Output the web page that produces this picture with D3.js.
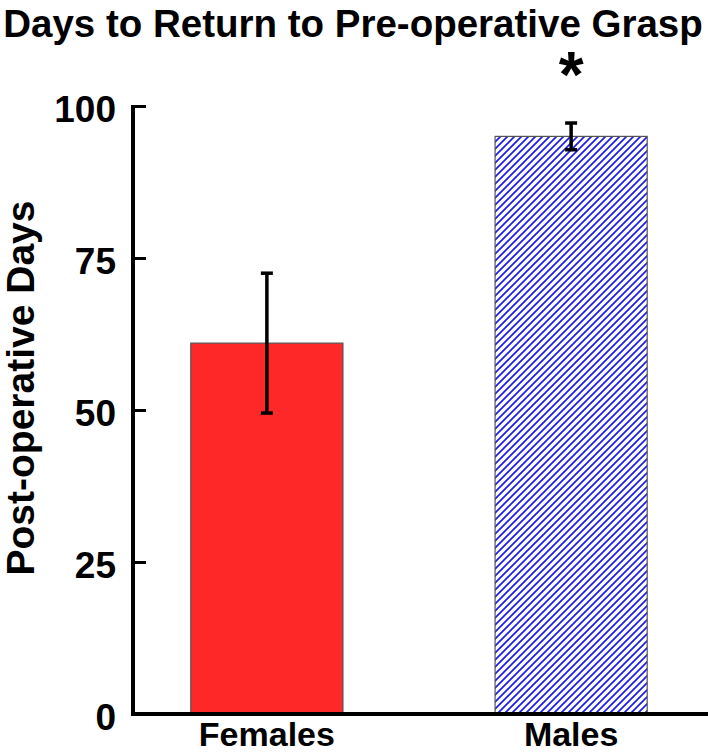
<!DOCTYPE html>
<html>
<head>
<meta charset="utf-8">
<script src="https://d3js.org/d3.v7.min.js"></script>
<style>
  body { margin: 0; background: #fff; }
  text { font-family: "Liberation Sans", Arial, sans-serif; font-weight: bold; fill: #000; }
</style>
</head>
<body>
<svg width="708" height="752"></svg>
<script>
// data
var groups = ["Females", "Males"];
var meanDays = [61, 95];
var semDays = [11.5, 2.2];
var yTicks = [0, 25, 50, 75, 100];
var sigMarks = ["", "*"];

var svg = d3.select("svg");

var x = d3.scaleBand()
  .domain(groups)
  .range([133, 705])
  .paddingInner(0.5)
  .paddingOuter(0.19);

var y = d3.scaleLinear()
  .domain([0, 100])
  .range([714, 106]);

var defs = svg.append("defs");
var hatch = defs.append("pattern")
  .attr("id", "hatch")
  .attr("patternUnits", "userSpaceOnUse")
  .attr("width", 7)
  .attr("height", 7);
hatch.append("rect").attr("width", 7).attr("height", 7).attr("fill", "#fff");
hatch.append("path")
  .attr("d", "M-1,1 L1,-1 M0,7 L7,0 M6,8 L8,6")
  .attr("stroke", "#1c1ce8")
  .attr("stroke-width", 1.7);

var fills = ["#ff2828", "url(#hatch)"];

var rows = groups.map(function(g, i) {
  return {name: g, mean: meanDays[i], sem: semDays[i], fill: fills[i], mark: sigMarks[i]};
});

// title
svg.append("text")
  .attr("x", 353)
  .attr("y", 37)
  .attr("text-anchor", "middle")
  .style("font-size", "38.5px")
  .text("Days to Return to Pre-operative Grasp");

// bars
svg.selectAll("rect.bar")
  .data(rows)
  .enter().append("rect")
  .attr("class", "bar")
  .attr("x", function(d) { return x(d.name); })
  .attr("y", function(d) { return y(d.mean); })
  .attr("width", x.bandwidth())
  .attr("height", function(d) { return y(0) - y(d.mean); })
  .attr("fill", function(d) { return d.fill; })
  .attr("stroke", "#555")
  .attr("stroke-width", 1.2);

// error bars
var err = svg.selectAll("g.err")
  .data(rows)
  .enter().append("g")
  .attr("class", "err")
  .attr("stroke", "#000")
  .attr("stroke-width", 3.5);

err.append("line")
  .attr("x1", function(d) { return x(d.name) + x.bandwidth() / 2; })
  .attr("x2", function(d) { return x(d.name) + x.bandwidth() / 2; })
  .attr("y1", function(d) { return y(d.mean + d.sem); })
  .attr("y2", function(d) { return y(d.mean - d.sem); });

[1, -1].forEach(function(s) {
  err.append("line")
    .attr("x1", function(d) { return x(d.name) + x.bandwidth() / 2 - 6; })
    .attr("x2", function(d) { return x(d.name) + x.bandwidth() / 2 + 6; })
    .attr("y1", function(d) { return y(d.mean + s * d.sem); })
    .attr("y2", function(d) { return y(d.mean + s * d.sem); });
});

// significance star
svg.selectAll("text.sig")
  .data(rows)
  .enter().append("text")
  .attr("class", "sig")
  .attr("x", function(d) { return x(d.name) + x.bandwidth() / 2; })
  .attr("y", 97)
  .attr("text-anchor", "middle")
  .style("font-size", "64px")
  .text(function(d) { return d.mark; });

// y axis
var yAxis = d3.axisLeft(y)
  .tickValues(yTicks)
  .tickSize(-13)
  .tickPadding(17)
  .tickFormat(d3.format("d"));

var gy = svg.append("g")
  .attr("transform", "translate(133,0)")
  .call(yAxis);
gy.select(".domain").remove();
gy.selectAll(".tick line").attr("stroke", "#000").attr("stroke-width", 3);
gy.selectAll(".tick text")
  .attr("dy", "0.42em")
  .style("font-size", "37px")
  .style("font-family", "'Liberation Sans', Arial, sans-serif")
  .style("font-weight", "bold");

svg.append("line")
  .attr("x1", 133).attr("x2", 133)
  .attr("y1", y(100) - 1).attr("y2", y(0) + 2)
  .attr("stroke", "#000").attr("stroke-width", 4);

// x axis
var xAxis = d3.axisBottom(x).tickSize(0).tickPadding(8);
var gx = svg.append("g")
  .attr("transform", "translate(0," + y(0) + ")")
  .call(xAxis);
gx.select(".domain").remove();
gx.selectAll(".tick text")
  .attr("dy", "0.71em")
  .style("font-size", "34px")
  .style("font-family", "'Liberation Sans', Arial, sans-serif")
  .style("font-weight", "bold");

svg.append("line")
  .attr("x1", 131).attr("x2", 708)
  .attr("y1", y(0)).attr("y2", y(0))
  .attr("stroke", "#000").attr("stroke-width", 4);

// y label
svg.append("text")
  .attr("transform", "translate(34," + 388 + ") rotate(-90)")
  .attr("text-anchor", "middle")
  .style("font-size", "39px")
  .text("Post-operative Days");
</script>
</body>
</html>
